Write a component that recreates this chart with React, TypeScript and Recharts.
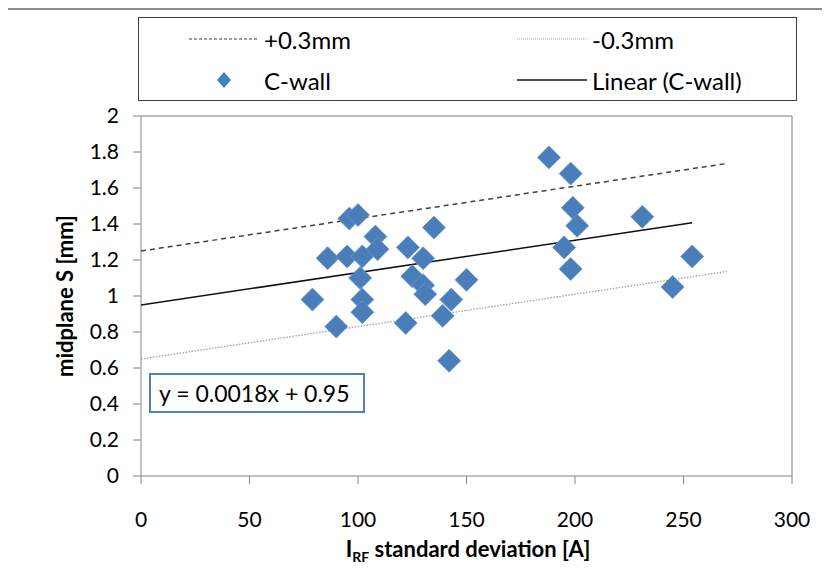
import { ScatterChart, Scatter, XAxis, YAxis, ReferenceLine } from "recharts";

const cwallX = [
  96, 100, 86, 95, 102, 108, 109, 101, 79, 102, 102, 90,
  135, 123, 130, 125, 130, 131, 150, 143, 139, 122, 142,
  188, 198, 199, 201, 195, 198, 231, 254, 245,
];
const cwallY = [
  1.43, 1.45, 1.21, 1.22, 1.22, 1.33, 1.26, 1.1, 0.98, 0.98, 0.91, 0.83,
  1.38, 1.27, 1.21, 1.11, 1.06, 1.01, 1.09, 0.98, 0.89, 0.85, 0.64,
  1.77, 1.68, 1.49, 1.39, 1.27, 1.15, 1.44, 1.22, 1.05,
];

const xTicks = [0, 50, 100, 150, 200, 250, 300];
const yTicks = [0, 0.2, 0.4, 0.6, 0.8, 1, 1.2, 1.4, 1.6, 1.8, 2];

// trendline y = 0.0018x + 0.95 and the +/-0.3 mm band
const slope = 0.0018;
const intercept = 0.95;
const band = 0.3;
const bandEnd = 270;

const points = cwallX.map((x, i) => ({ x, y: cwallY[i] }));
const fitEnd = Math.max(...cwallX);
const fitLine = [0, fitEnd].map((x) => ({ x, y: intercept + slope * x }));
const plusLine = [0, bandEnd].map((x) => ({ x, y: intercept + band + slope * x }));
const minusLine = [0, bandEnd].map((x) => ({ x, y: intercept - band + slope * x }));

const FONT = "Lato, 'Liberation Sans', sans-serif";
const BLUE = "#4a7ebb";

function Diamond(props: any) {
  const { cx, cy } = props;
  const r = 11.5;
  return (
    <polygon
      points={`${cx},${cy - r} ${cx + r},${cy} ${cx},${cy + r} ${cx - r},${cy}`}
      fill={BLUE}
      stroke="#6b95c9"
      strokeWidth={0.8}
    />
  );
}

const noDot = () => <g />;

function LegendRow({ left, top, sample, label }: { left: number; top: number; sample: any; label: string }) {
  return (
    <div style={{ position: "absolute", left, top, display: "flex", alignItems: "center", height: 24 }}>
      <svg width={72} height={24} style={{ marginRight: 5 }}>
        {sample}
      </svg>
      <span style={{ fontSize: 24, fontFamily: FONT, whiteSpace: "nowrap" }}>{label}</span>
    </div>
  );
}

export default function App() {
  return (
    <div style={{ position: "relative", width: 830, height: 581, margin: -8, overflow: "hidden", background: "#fff" }}>
      <div
        style={{
          position: "absolute",
          left: 6,
          top: 8,
          width: 900,
          height: 700,
          border: "2px solid #8c8c8c",
        }}
      />
      <div style={{ position: "absolute", left: 0, top: 0 }}>
        <ScatterChart width={830} height={581} margin={{ top: 116, right: 38, bottom: 45, left: 81 }}>
          <XAxis
            type="number"
            dataKey="x"
            domain={[0, 300]}
            ticks={xTicks}
            height={60}
            tickSize={8}
            tickMargin={28}
            stroke="#868686"
            tick={{ fill: "#000", fontSize: 21, fontFamily: FONT }}
            allowDataOverflow
          />
          <YAxis
            type="number"
            dataKey="y"
            domain={[0, 2]}
            ticks={yTicks}
            width={60}
            tickSize={8}
            tickMargin={14}
            stroke="#868686"
            tick={{ fill: "#000", fontSize: 21, fontFamily: FONT }}
            allowDataOverflow
          />
          <ReferenceLine x={300} stroke="#a6a6a6" strokeWidth={1.5} />
          <ReferenceLine y={2} stroke="#a6a6a6" strokeWidth={1.5} />
          <Scatter
            data={plusLine}
            line={{ stroke: "#404040", strokeWidth: 1.5, strokeDasharray: "5 4" }}
            shape={noDot}
            isAnimationActive={false}
          />
          <Scatter
            data={minusLine}
            line={{ stroke: "#a0a0a0", strokeWidth: 1.3, strokeDasharray: "1.5 1.5" }}
            shape={noDot}
            isAnimationActive={false}
          />
          <Scatter
            data={fitLine}
            line={{ stroke: "#111", strokeWidth: 1.5 }}
            shape={noDot}
            isAnimationActive={false}
          />
          <Scatter data={points} shape={Diamond} isAnimationActive={false} />
        </ScatterChart>
      </div>

      {/* legend */}
      <div
        style={{
          position: "absolute",
          left: 138,
          top: 17,
          width: 657,
          height: 82,
          border: "1.5px solid #404040",
          background: "#fff",
        }}
      >
        <LegendRow
          left={48}
          top={9}
          label="+0.3mm"
          sample={<line x1={2} y1={12} x2={72} y2={12} stroke="#404040" strokeWidth={1.2} strokeDasharray="3 2" />}
        />
        <LegendRow
          left={376}
          top={9}
          label="-0.3mm"
          sample={<line x1={2} y1={12} x2={72} y2={12} stroke="#a0a0a0" strokeWidth={1.2} strokeDasharray="1 1" />}
        />
        <LegendRow
          left={48}
          top={50}
          label="C-wall"
          sample={<polygon points="37,4 44,12 37,20 30,12" fill={BLUE} />}
        />
        <LegendRow
          left={376}
          top={50}
          label="Linear (C-wall)"
          sample={<line x1={2} y1={12} x2={72} y2={12} stroke="#111" strokeWidth={1.5} />}
        />
      </div>

      {/* equation box */}
      <div
        style={{
          position: "absolute",
          left: 149,
          top: 373,
          width: 204,
          height: 36,
          border: "2px solid #4f81bd",
          background: "#fff",
          fontFamily: FONT,
          fontSize: 23,
          lineHeight: "36px",
          paddingLeft: 8,
          boxSizing: "content-box",
        }}
      >
        y = 0.0018x + 0.95
      </div>

      {/* axis titles */}
      <div
        style={{
          position: "absolute",
          left: 64,
          top: 296,
          transform: "translate(-50%, -50%) rotate(-90deg)",
          fontFamily: FONT,
          fontWeight: "bold",
          fontSize: 22,
          whiteSpace: "nowrap",
        }}
      >
        midplane S [mm]
      </div>
      <div
        style={{
          position: "absolute",
          left: 468,
          top: 550,
          transform: "translate(-50%, -50%)",
          fontFamily: FONT,
          fontWeight: "bold",
          fontSize: 22,
          whiteSpace: "nowrap",
        }}
      >
        I<sub style={{ fontSize: 14 }}>RF</sub> standard deviation [A]
      </div>
    </div>
  );
}
